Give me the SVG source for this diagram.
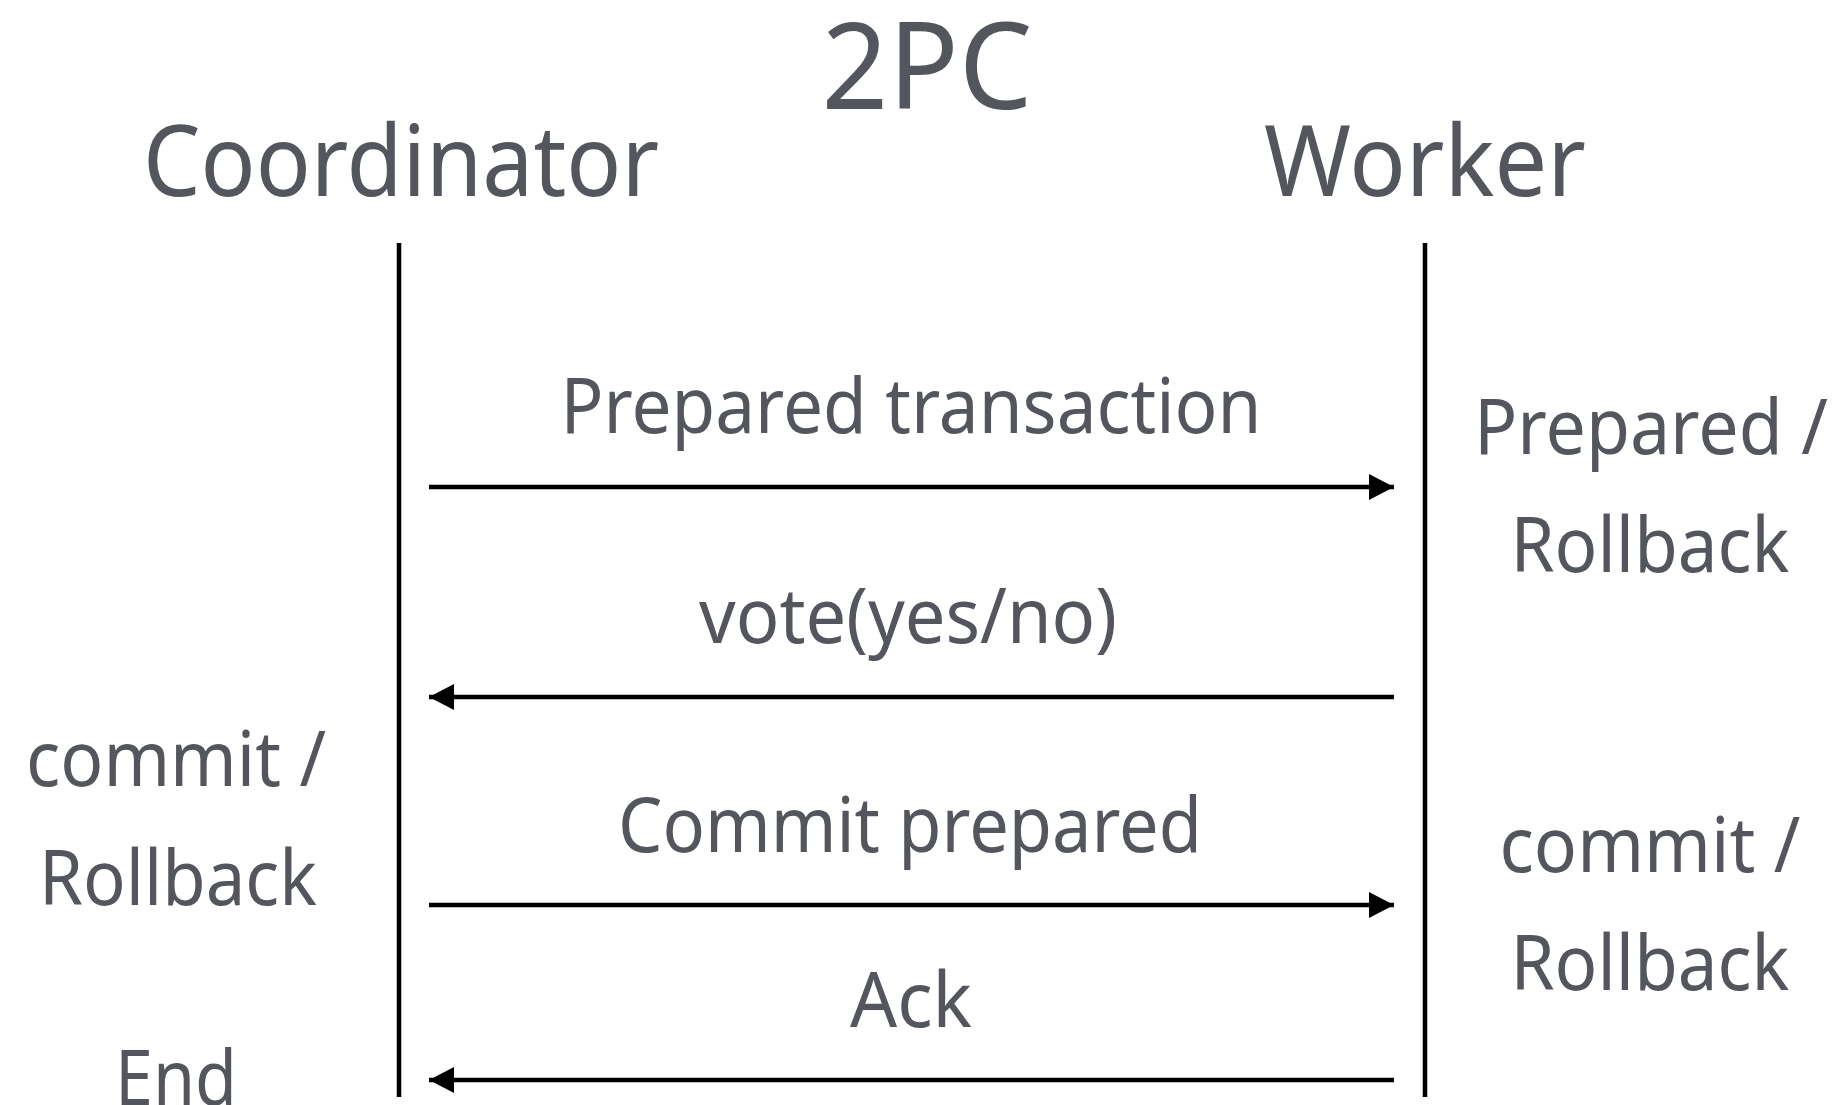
<svg xmlns="http://www.w3.org/2000/svg" width="1839" height="1105" viewBox="0 0 1839 1105">
  <style>
    text { font-family: "Noto Sans", "Open Sans", "DejaVu Sans", sans-serif; fill: #53565c; text-anchor: middle; }
    .title { font-size: 121px; }
    .actor { font-size: 99px; }
    .lbl { font-size: 77px; }
    .life { stroke: #000; stroke-width: 4.5; fill: none; }
    .msg { stroke: #000; stroke-width: 4.5; fill: none; marker-end: url(#head); }
  </style>
  <defs>
    <marker id="head" markerUnits="userSpaceOnUse" markerWidth="26" markerHeight="26" refX="25" refY="13" orient="auto">
      <path d="M0,0 L25,13 L0,26 Z" fill="#000"/>
    </marker>
  </defs>
  <rect width="1839" height="1105" fill="#fff"/>

  <g id="title">
    <text class="title" x="927" y="109" textLength="211" lengthAdjust="spacingAndGlyphs">2PC</text>
  </g>

  <g id="coordinator">
    <text class="actor" x="401" y="196" textLength="516" lengthAdjust="spacingAndGlyphs">Coordinator</text>
    <line class="life" x1="399" y1="243" x2="399" y2="1097"/>
  </g>

  <g id="worker">
    <text class="actor" x="1425" y="196" textLength="322" lengthAdjust="spacingAndGlyphs">Worker</text>
    <line class="life" x1="1425" y1="243" x2="1425" y2="1097"/>
  </g>

  <g id="coordinator-states">
    <text class="lbl" x="176" y="786" textLength="300" lengthAdjust="spacingAndGlyphs">commit /</text>
    <text class="lbl" x="178" y="905" textLength="278" lengthAdjust="spacingAndGlyphs">Rollback</text>
    <text class="lbl" x="176" y="1105" textLength="122" lengthAdjust="spacingAndGlyphs">End</text>
  </g>

  <g id="worker-states">
    <text class="lbl" x="1651" y="454" textLength="354" lengthAdjust="spacingAndGlyphs">Prepared /</text>
    <text class="lbl" x="1650" y="572" textLength="279" lengthAdjust="spacingAndGlyphs">Rollback</text>
    <text class="lbl" x="1650" y="872" textLength="301" lengthAdjust="spacingAndGlyphs">commit /</text>
    <text class="lbl" x="1650" y="990" textLength="279" lengthAdjust="spacingAndGlyphs">Rollback</text>
  </g>

  <g id="connectors">
    <line class="msg" x1="429" y1="487" x2="1394" y2="487"/>
    <line class="msg" x1="1394" y1="697" x2="429" y2="697"/>
    <line class="msg" x1="429" y1="905" x2="1394" y2="905"/>
    <line class="msg" x1="1394" y1="1080" x2="429" y2="1080"/>
  </g>

  <g id="message-labels">
    <text class="lbl" x="911" y="433" textLength="701" lengthAdjust="spacingAndGlyphs">Prepared transaction</text>
    <text class="lbl" x="908" y="643" textLength="418" lengthAdjust="spacingAndGlyphs">vote(yes/no)</text>
    <text class="lbl" x="910" y="852" textLength="584" lengthAdjust="spacingAndGlyphs">Commit prepared</text>
    <text class="lbl" x="911" y="1027" textLength="122" lengthAdjust="spacingAndGlyphs">Ack</text>
  </g>
</svg>
